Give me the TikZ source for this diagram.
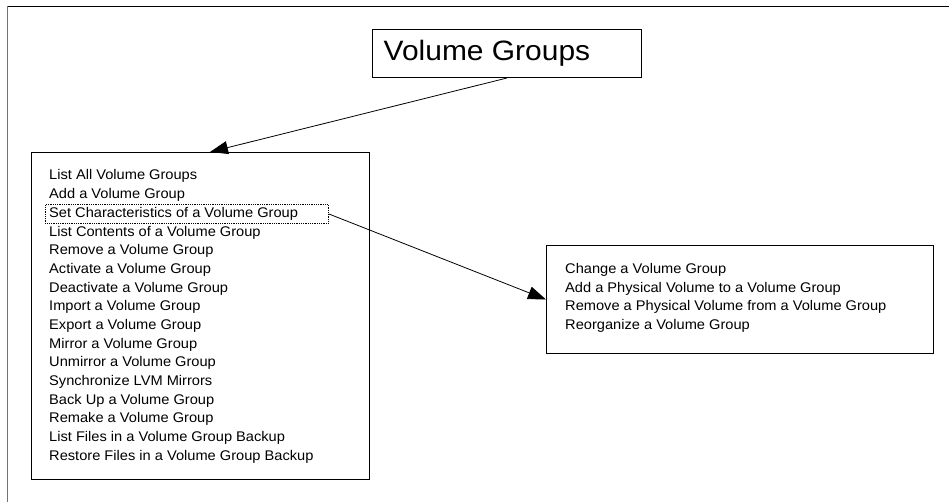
\documentclass[tikz,border=0pt]{standalone}
\usepackage{fontspec}
\newfontfamily\lfont{Liberation Sans}[FakeStretch=1.07]
\newfontfamily\sfont{Liberation Sans}[FakeStretch=1.045]
\usetikzlibrary{arrows.meta,calc}
\begin{document}
\begin{tikzpicture}[x=1pt,y=-1pt,
  box/.style={draw=black, line width=1pt, inner sep=0pt, anchor=north west},
  txt/.style={inner sep=0pt, anchor=base west, font=\sfont\fontsize{14}{18}\selectfont},
  conn/.style={draw=black, line width=0.8pt, -{Triangle[length=18pt,width=13pt]}}]
\useasboundingbox (0,0) rectangle (949,502);
\fill[white] (0,0) rectangle (949,502);
% outer frame
\coordinate (fTL) at (7.5,6.5);
\coordinate (fTR) at (949,6.5);
\coordinate (fBL) at (7.5,502);
\draw[line width=1.2pt] (fTL) -- (fTR);
\draw[line width=1.2pt, black!55] (fTL) -- (fBL);
% title box
\node[box, minimum width=269pt, minimum height=48pt] (vg) at (372,29) {};
\node[inner sep=0pt, anchor=base west, font=\lfont\fontsize{28}{32}\selectfont] (vgt) at (383.5,60.7) {Volume Groups};
% left list
\node[box, minimum width=338pt, minimum height=327pt] (L) at (31,152) {};
\foreach \t [count=\i] in {List All Volume Groups, Add a Volume Group, Set Characteristics of a Volume Group, List Contents of a Volume Group, Remove a Volume Group, Activate a Volume Group, Deactivate a Volume Group, Import a Volume Group, Export a Volume Group, Mirror a Volume Group, Unmirror a Volume Group, Synchronize LVM Mirrors, Back Up a Volume Group, Remake a Volume Group, List Files in a Volume Group Backup, Restore Files in a Volume Group Backup}
  \node[txt] (l\i) at (49,{180+18.67*(\i-1)}) {\t};
\node[draw, densely dotted, line width=0.8pt, inner sep=0pt, anchor=north west, minimum width=283pt, minimum height=18.5pt] (focus) at (45,204.3) {};
% right list
\node[box, minimum width=387pt, minimum height=108pt] (R) at (546,245) {};
\foreach \t [count=\i] in {Change a Volume Group, Add a Physical Volume to a Volume Group, Remove a Physical Volume from a Volume Group, Reorganize a Volume Group}
  \node[txt] (r\i) at (565,{273.5+18.6*(\i-1)}) {\t};
% connectors
\draw[conn] (vg.south) -- ($(L.north west)+(179,0)$);
\draw[conn] (focus.east) -- (R.west);
\end{tikzpicture}
\end{document}
